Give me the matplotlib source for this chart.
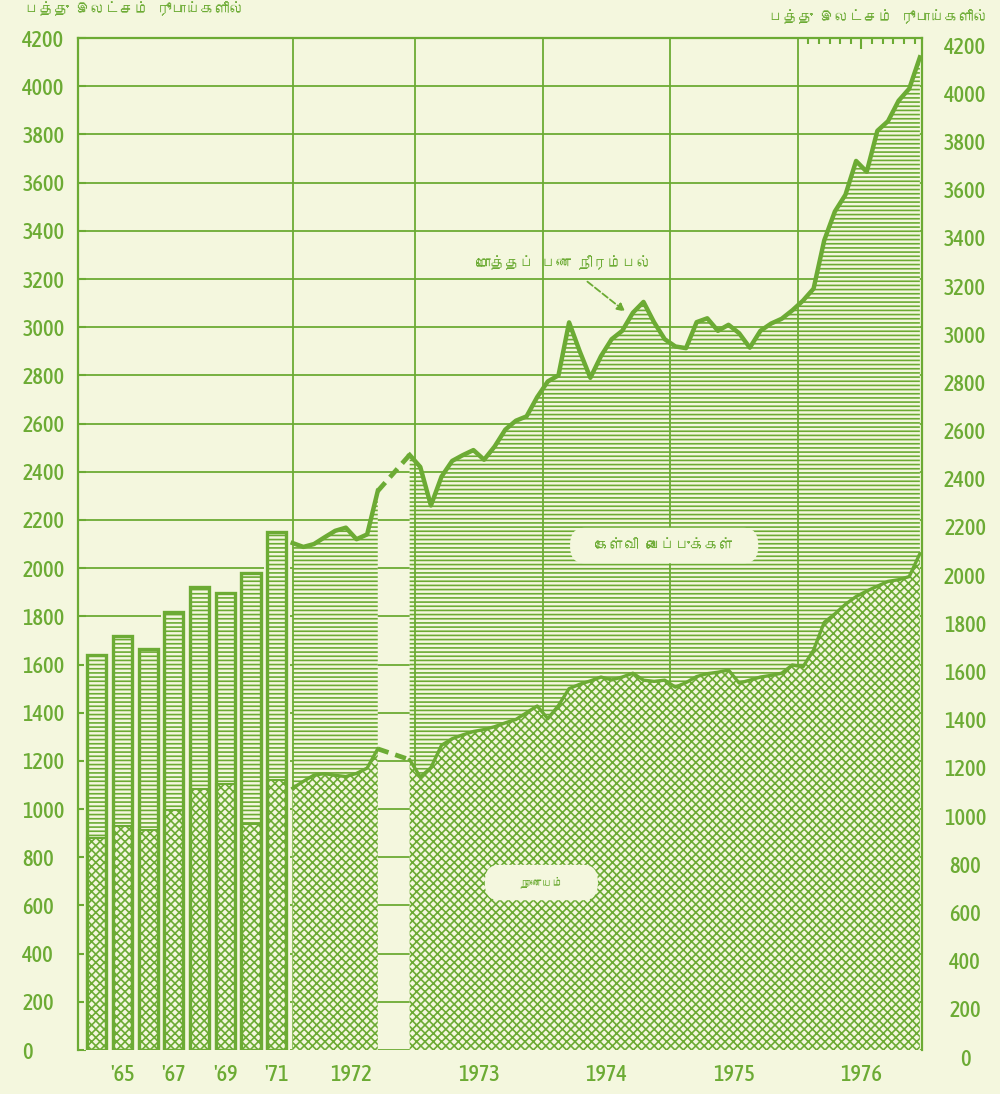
import numpy as np
import matplotlib.pyplot as plt
from matplotlib import font_manager
from matplotlib.ft2font import FT2Font
from matplotlib.patches import FancyBboxPatch
from matplotlib.transforms import ScaledTranslation

GREEN = '#6cab34'
CREAM = '#f4f7de'

# yearly figures 1964-1971, in ten lakh rupees
bar_years = [1964, 1965, 1966, 1967, 1968, 1969, 1970, 1971]
bar_total = [1640, 1720, 1665, 1820, 1920, 1895, 1980, 2150]
bar_currency = [880, 930, 915, 995, 1085, 1105, 940, 1120]
bar_labels = {1965: "'65", 1967: "'67", 1969: "'69", 1971: "'71"}

# monthly figures Jan 1972 - Dec 1976 (Oct, Nov 1972 not available)
month_years = [1972, 1973, 1974, 1975, 1976]
total_supply = [
    2104, 2088, 2100, 2128, 2155, 2168, 2120, 2140, 2320, np.nan, np.nan, 2470,
    2420, 2260, 2380, 2445, 2469, 2490, 2450, 2505, 2575, 2612, 2630, 2710,
    2775, 2800, 3020, 2900, 2790, 2880, 2950, 2985, 3060, 3105, 3020, 2950,
    2920, 2913, 3021, 3037, 2985, 3010, 2975, 2915, 2985, 3015, 3035, 3070,
    3110, 3160, 3360, 3480, 3550, 3690, 3645, 3815, 3855, 3940, 3990, 4120,
]
currency = [
    1087, 1115, 1141, 1147, 1140, 1135, 1148, 1170, 1250, np.nan, np.nan, 1205,
    1133, 1172, 1265, 1292, 1308, 1322, 1330, 1342, 1358, 1372, 1400, 1428,
    1375, 1430, 1500, 1518, 1532, 1548, 1536, 1548, 1564, 1535, 1530, 1535,
    1506, 1525, 1550, 1562, 1568, 1577, 1523, 1535, 1548, 1555, 1564, 1598,
    1590, 1660, 1775, 1810, 1850, 1882, 1905, 1925, 1945, 1952, 1965, 2060,
]
y_ticks = list(range(0, 4201, 200))

unit_label = 'பத்து இலட்சம் ரூபாய்களில்'
total_label = 'மொத்தப் பண நிரம்பல்'
deposit_label = 'கேள்வி வைப்புக்கள்'
currency_label = 'நாணயம்'


def find_tamil_font():
    for f in font_manager.fontManager.ttflist:
        try:
            if FT2Font(f.fname).get_char_index(0x0B95):
                return f.name
        except Exception:
            continue
    return None


def find_narrow_font(size):
    # a condensed face for the numbers, if one is installed
    narrow = ('condensed', 'semi-condensed', 'extra-condensed', 'ultra-condensed')
    best = None
    for f in font_manager.fontManager.ttflist:
        is_narrow = 'Narrow' in f.name or 'Condensed' in f.name or str(f.stretch) in narrow
        if not is_narrow or f.style != 'normal' or 'Mono' in f.name:
            continue
        score = abs(int(f.weight) - 500) if str(f.weight).isdigit() else 300
        if best is None or score < best[0]:
            best = (score, f.fname)
    if best:
        return font_manager.FontProperties(fname=best[1], size=size)
    return font_manager.FontProperties(family='Roboto', size=size)


tamil = find_tamil_font()
tamil_family = [tamil, 'DejaVu Sans'] if tamil else ['DejaVu Sans']
num_font = find_narrow_font(16)

plt.rcParams['hatch.linewidth'] = 1.2

fig = plt.figure(figsize=(10, 10.94), dpi=100, facecolor=CREAM)
ax = fig.add_axes([0.078, 0.0402, 0.844, 0.925])
ax.set_facecolor(CREAM)
ax.set_xlim(-20.2, 59.2)
ax.set_ylim(0, 4200)

# yearly bars
step, width = 2.42, 1.8
bar_x = np.array([-1.5 - step * (bar_years[-1] - y) for y in bar_years])
tot_b = np.array(bar_total)
cur_b = np.array(bar_currency)
ax.bar(bar_x, tot_b, width=step, color=CREAM, lw=0, zorder=1)
ax.bar(bar_x, tot_b - cur_b, bottom=cur_b, width=width, color=CREAM,
       edgecolor=GREEN, hatch='----', lw=0, zorder=2)
ax.bar(bar_x, cur_b, width=width, color=CREAM, edgecolor=GREEN, hatch='xxxx', lw=0, zorder=3)
ax.bar(bar_x, cur_b, width=width, fill=False, edgecolor=GREEN, lw=1.5, zorder=4)
ax.bar(bar_x, tot_b, width=width, fill=False, edgecolor=GREEN, lw=2.4, zorder=4)

# monthly areas
t = np.arange(len(total_supply))
tot = np.array(total_supply, float)
cur = np.array(currency, float)
idx = np.flatnonzero(~np.isnan(tot))
runs = np.split(idx, np.flatnonzero(np.diff(idx) > 1) + 1)
for r in runs:
    ax.fill_between(t[r], cur[r], tot[r], facecolor=CREAM, edgecolor=GREEN,
                    hatch='----', lw=0, zorder=2)
    ax.fill_between(t[r], 0, cur[r], facecolor=CREAM, edgecolor=GREEN,
                    hatch='xxxx', lw=0, zorder=3)
    ax.plot(t[r], cur[r], color=GREEN, lw=2.4, zorder=4, solid_joinstyle='round')
    ax.plot(t[r], tot[r], color=GREEN, lw=3.2, zorder=4, solid_joinstyle='round')
for a, b in zip(runs[:-1], runs[1:]):
    gap = [a[-1], b[0]]
    ax.plot(t[gap], tot[gap], color=GREEN, lw=3.4, ls=(0, (2.4, 1.5)), zorder=4)
    ax.plot(t[gap], cur[gap], color=GREEN, lw=3.4, ls=(0, (2.4, 1.5)), zorder=4)

for i in range(len(month_years)):
    ax.axvline(max(12 * i - 0.5, 0), color=GREEN, lw=1.3, zorder=2.5)

ax.set_yticks(y_ticks, [str(v) for v in y_ticks], ha='left', fontproperties=num_font)
ax.grid(axis='y', color=GREEN, lw=1.3)
ax.set_axisbelow(True)
ax.tick_params(axis='y', direction='in', length=6, width=1.5, color=GREEN,
               pad=40, labelcolor=GREEN)

label_pos = [bar_x[bar_years.index(y)] for y in bar_labels]
label_pos += [12 * i + 5.5 for i in range(len(month_years))]
label_txt = list(bar_labels.values()) + [str(y) for y in month_years]
ax.set_xticks(label_pos, label_txt, fontproperties=num_font)
ax.tick_params(axis='x', length=0, pad=10, labelcolor=GREEN)

for s in ['left', 'right', 'top']:
    ax.spines[s].set_color(GREEN)
    ax.spines[s].set_linewidth(1.6)
    ax.spines[s].set_zorder(5)
ax.spines['bottom'].set_visible(False)

# month ticks along the top for 1976
top = ax.secondary_xaxis('top')
last = 12 * (len(month_years) - 1) - 0.5
top.set_xticks([last + 6], labels=[''])
top.set_xticks([last + k for k in range(1, 12) if k != 6], minor=True)
top.tick_params(which='major', direction='in', length=8, width=1.5, color=GREEN)
top.tick_params(which='minor', direction='in', length=4, width=1.5, color=GREEN)
for s in top.spines.values():
    s.set_visible(False)

# right hand scale, printed a little lower than the left one
ax2 = ax.twinx()
ax2.set_ylim(0, 4200)
ax2.set_yticks(y_ticks, [str(v) for v in y_ticks], ha='center', fontproperties=num_font)
ax2.tick_params(axis='y', length=0, pad=31, labelcolor=GREEN)
for s in ax2.spines.values():
    s.set_visible(False)
shift = ScaledTranslation(0, -0.07, fig.dpi_scale_trans)
for lbl in ax2.get_yticklabels():
    lbl.set_transform(lbl.get_transform() + shift)


def label_box(x0, y0, w, h, text, size):
    box = FancyBboxPatch((x0, y0), w, h, boxstyle='round,pad=0,rounding_size=0.017',
                         transform=ax.transAxes, facecolor=CREAM, edgecolor='none', zorder=5)
    ax.add_patch(box)
    ax.text(x0 + w / 2, y0 + h / 2, text, transform=ax.transAxes, ha='center', va='center',
            color=GREEN, fontsize=size, family=tamil_family, zorder=6)


label_box(0.583, 0.481, 0.223, 0.035, deposit_label, 10.5)
label_box(0.482, 0.148, 0.134, 0.035, currency_label, 8)

ax.text(0.576, 0.778, total_label, transform=ax.transAxes, ha='center', va='center',
        color=GREEN, fontsize=10.5, family=tamil_family, zorder=6)
ax.annotate('', xy=(0.651, 0.728), xytext=(0.601, 0.761), xycoords='axes fraction',
            arrowprops=dict(arrowstyle='-|>', color=GREEN, lw=1.3, ls='--', mutation_scale=12),
            zorder=6)

fig.text(0.025, 0.9918, unit_label, ha='left', va='center', color=GREEN,
         fontsize=10.5, family=tamil_family, fontweight='bold')
fig.text(0.988, 0.9845, unit_label, ha='right', va='center', color=GREEN,
         fontsize=10.5, family=tamil_family, fontweight='bold')

plt.savefig('out.png', dpi=100, facecolor=CREAM)
